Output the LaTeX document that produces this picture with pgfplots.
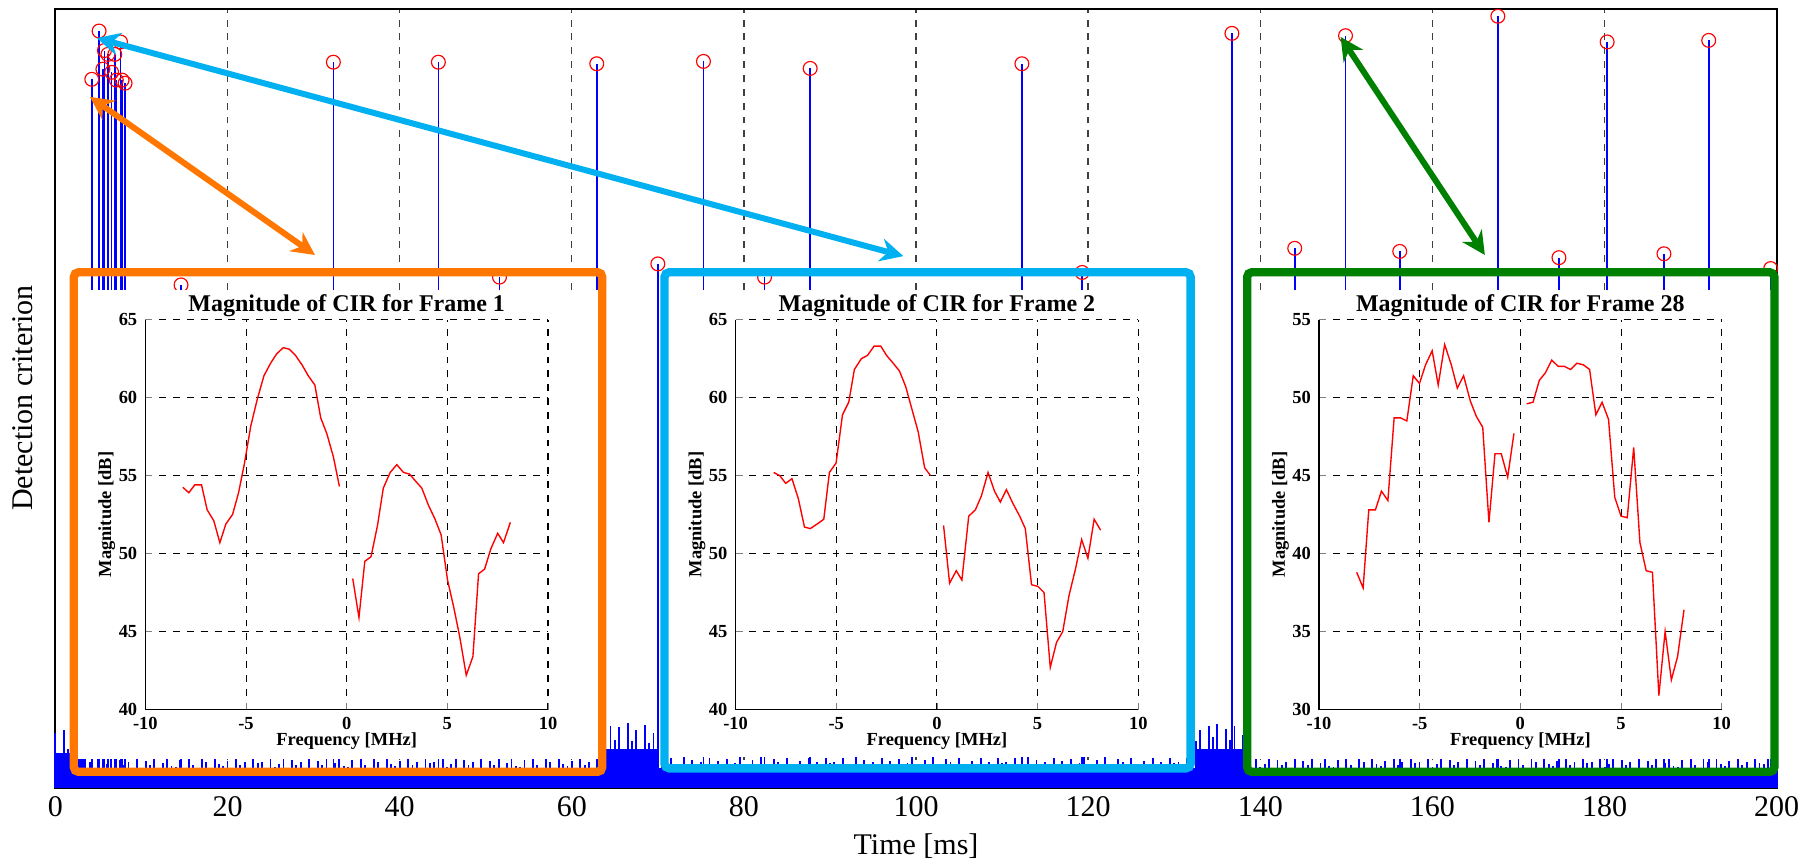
\documentclass[border=0pt]{standalone}
\usepackage{pgfplots}
\pgfplotsset{compat=1.18}
\usepackage{fontspec}
\setmainfont{Liberation Serif}
\usetikzlibrary{arrows.meta}
\definecolor{frorange}{RGB}{255,119,0}
\definecolor{frblue}{RGB}{0,176,240}
\definecolor{frgreen}{RGB}{0,128,0}
\newcommand{\mainfont}{\fontsize{13}{15}\selectfont}
\newcommand{\insfont}{\bfseries\fontsize{8}{9.5}\selectfont}

\pgfplotsset{
  cir/.style={
    anchor=south west, scale only axis, width=174.5pt, height=169pt,
    xmin=-10, xmax=10,
    xtick={-10,-5,0,5,10}, xticklabels={-10,-5,0,5,10},
    axis x line*=bottom, axis y line*=left,
    tick align=inside, major tick length=3pt,
    grid=major, grid style={dashed, black, line width=0.45pt},
    axis line style={black, line width=0.6pt},
    ticklabel style={font=\insfont},
    xlabel={Frequency [MHz]}, ylabel={Magnitude [dB]},
    label style={font=\insfont},
    xlabel style={at={(axis description cs:0.5,0)}, anchor=center, yshift=-13.5pt},
    ylabel style={at={(axis description cs:0,0.5)}, anchor=center, yshift=16.75pt},
    title style={font=\bfseries\fontsize{10.4}{12}\selectfont,
      at={(axis description cs:0.5,1)}, anchor=center, yshift=0pt},
  },
  cirline/.style={red, line width=0.6pt},
}

\begin{document}
\begin{tikzpicture}
% main detection plot
\begin{axis}[
  at={(24pt,-341.5pt)}, anchor=south west, scale only axis,
  width=746pt, height=337.5pt,
  xmin=0, xmax=200, ymin=0, ymax=1,
  xtick={0,20,...,200}, xticklabels={0,20,40,60,80,100,120,140,160,180,200},
  ytick=\empty, xtick pos=left, tick align=inside, major tick length=4pt,
  xmajorgrids, grid style={dashed, black!75, line width=0.6pt},
  axis line style={line width=0.8pt},
  ticklabel style={font=\mainfont},
  clip=false,
]
% dense noise floor (solid part)
\addplot[draw=none, fill=blue] coordinates {(0,0.026)(200,0.026)} \closedcycle;
\addplot[draw=none, fill=blue] coordinates {(0,0.045)(3.5,0.045)} \closedcycle;
\addplot[draw=none, fill=blue] coordinates {(63,0.050)(70,0.050)} \closedcycle;
\addplot[draw=none, fill=blue] coordinates {(132.5,0.050)(138,0.050)} \closedcycle;
% noise spikes
\addplot[ycomb, blue, line width=0.8pt, mark=none] coordinates {
(0,.070)(0.5,.045)(1,.075)(1.5,.050)(2,.068)(2.5,.032)(3,.072)(3.5,.045)
(4,.034)(4.5,.022)(5,.038)(5.5,.027)(6,.031)(6.5,.040)(7,.024)(7.5,.036)(8,.029)(8.5,.033)(9,.021)(9.5,.039)(10,.026)(10.5,.035)(11,.030)(11.5,.037)(12,.023)(12.5,.032)(13,.041)(13.5,.028)
(14,.027)(14.5,.036)(15,.024)(15.5,.040)(16,.030)(16.5,.022)(17,.037)(17.5,.033)(18,.025)(18.5,.039)(19,.031)(19.5,.028)(20,.035)(20.5,.021)(21,.038)(21.5,.029)(22,.034)(22.5,.026)(23,.039)(23.5,.032)
(24,.034)(24.5,.022)(25,.038)(25.5,.027)(26,.031)(26.5,.040)(27,.024)(27.5,.036)(28,.029)(28.5,.033)(29,.021)(29.5,.039)(30,.026)(30.5,.035)(31,.030)(31.5,.037)(32,.023)(32.5,.032)(33,.041)(33.5,.028)
(34,.027)(34.5,.036)(35,.024)(35.5,.040)(36,.030)(36.5,.022)(37,.037)(37.5,.033)(38,.025)(38.5,.039)(39,.031)(39.5,.028)(40,.035)(40.5,.021)(41,.038)(41.5,.029)(42,.034)(42.5,.026)(43,.039)(43.5,.032)
(44,.034)(44.5,.022)(45,.038)(45.5,.027)(46,.031)(46.5,.040)(47,.024)(47.5,.036)(48,.029)(48.5,.033)(49,.021)(49.5,.039)(50,.026)(50.5,.035)(51,.030)(51.5,.037)(52,.023)(52.5,.032)(53,.041)(53.5,.028)
(54,.027)(54.5,.036)(55,.024)(55.5,.040)(56,.030)(56.5,.022)(57,.037)(57.5,.033)(58,.025)(58.5,.039)(59,.031)(59.5,.028)(60,.035)(60.5,.021)(61,.038)(61.5,.029)(62,.034)(62.5,.026)
(63,.055)(63.5,.072)(64,.040)(64.5,.080)(65,.062)(65.5,.078)(66,.045)(66.5,.083)(67,.060)(67.5,.075)(68,.050)(68.5,.081)(69,.058)(69.5,.070)(70,.048)
(70.5,.034)(71,.022)(71.5,.038)(72,.027)(72.5,.031)(73,.040)(73.5,.024)(74,.036)(74.5,.029)(75,.033)(75.5,.021)(76,.039)(76.5,.026)(77,.035)(77.5,.030)(78,.037)(78.5,.023)(79,.032)(79.5,.041)(80,.028)
(80.5,.027)(81,.036)(81.5,.024)(82,.040)(82.5,.030)(83,.022)(83.5,.037)(84,.033)(84.5,.025)(85,.039)(85.5,.031)(86,.028)(86.5,.035)(87,.021)(87.5,.038)(88,.029)(88.5,.034)(89,.026)(89.5,.039)(90,.032)
(90.5,.034)(91,.022)(91.5,.038)(92,.027)(92.5,.031)(93,.040)(93.5,.024)(94,.036)(94.5,.029)(95,.033)(95.5,.021)(96,.039)(96.5,.026)(97,.035)(97.5,.030)(98,.037)(98.5,.023)(99,.032)(99.5,.041)(100,.028)
(100.5,.027)(101,.036)(101.5,.024)(102,.040)(102.5,.030)(103,.022)(103.5,.037)(104,.033)(104.5,.025)(105,.039)(105.5,.031)(106,.028)(106.5,.035)(107,.021)(107.5,.038)(108,.029)(108.5,.034)(109,.026)(109.5,.039)(110,.032)
(110.5,.034)(111,.022)(111.5,.038)(112,.027)(112.5,.031)(113,.040)(113.5,.024)(114,.036)(114.5,.029)(115,.033)(115.5,.021)(116,.039)(116.5,.026)(117,.035)(117.5,.030)(118,.037)(118.5,.023)(119,.032)(119.5,.041)(120,.028)
(120.5,.027)(121,.036)(121.5,.024)(122,.040)(122.5,.030)(123,.022)(123.5,.037)(124,.033)(124.5,.025)(125,.039)(125.5,.031)(126,.028)(126.5,.035)(127,.021)(127.5,.038)(128,.029)(128.5,.034)(129,.026)(129.5,.039)(130,.032)
(130.5,.034)(131,.022)(131.5,.038)(132,.027)
(132.5,.060)(133,.074)(133.5,.048)(134,.079)(134.5,.065)(135,.082)(135.5,.050)(136,.076)(136.5,.062)(137,.080)(137.5,.045)(138,.068)
(138.5,.034)(139,.022)(139.5,.038)(140,.027)(140.5,.031)(141,.040)(141.5,.024)(142,.036)(142.5,.029)(143,.033)(143.5,.021)(144,.039)(144.5,.026)(145,.035)(145.5,.030)(146,.037)(146.5,.023)(147,.032)(147.5,.041)(148,.028)
(148.5,.027)(149,.036)(149.5,.024)(150,.040)(150.5,.030)(151,.022)(151.5,.037)(152,.033)(152.5,.025)(153,.039)(153.5,.031)(154,.028)(154.5,.035)(155,.021)(155.5,.038)(156,.029)(156.5,.034)(157,.026)(157.5,.039)(158,.032)
(158.5,.034)(159,.022)(159.5,.038)(160,.027)(160.5,.031)(161,.040)(161.5,.024)(162,.036)(162.5,.029)(163,.033)(163.5,.021)(164,.039)(164.5,.026)(165,.035)(165.5,.030)(166,.037)(166.5,.023)(167,.032)(167.5,.041)(168,.028)
(168.5,.027)(169,.036)(169.5,.024)(170,.040)(170.5,.030)(171,.022)(171.5,.037)(172,.033)(172.5,.025)(173,.039)(173.5,.031)(174,.028)(174.5,.035)(175,.021)(175.5,.038)(176,.029)(176.5,.034)(177,.026)(177.5,.039)(178,.032)
(178.5,.034)(179,.022)(179.5,.038)(180,.027)(180.5,.031)(181,.040)(181.5,.024)(182,.036)(182.5,.029)(183,.033)(183.5,.021)(184,.039)(184.5,.026)(185,.035)(185.5,.030)(186,.037)(186.5,.023)(187,.032)(187.5,.041)(188,.028)
(188.5,.027)(189,.036)(189.5,.024)(190,.040)(190.5,.030)(191,.022)(191.5,.037)(192,.033)(192.5,.025)(193,.039)(193.5,.031)(194,.028)(194.5,.035)(195,.021)(195.5,.038)(196,.029)(196.5,.034)(197,.026)(197.5,.039)(198,.032)
(198.5,.031)(199,.040)(199.5,.024)(200,.036)
};
% detections
\addplot[ycomb, blue, line width=0.7pt, mark=o, mark size=3pt,
  mark options={red, line width=0.5pt, solid}] coordinates {
(4.23,0.910)(5.08,0.972)(5.52,0.923)(5.70,0.947)(6.10,0.942)(6.54,0.919)
(6.90,0.942)(7.08,0.909)(7.57,0.958)(7.75,0.909)(8.10,0.905)
(32.3,0.932)(44.5,0.932)(62.9,0.930)(75.3,0.933)(87.7,0.924)(112.3,0.930)
(136.7,0.969)(149.9,0.966)(167.6,0.991)(180.3,0.958)(192.1,0.960)
(14.6,0.646)(51.6,0.656)(70.0,0.673)(82.4,0.656)(119.3,0.662)
(144.0,0.693)(156.2,0.689)(174.7,0.681)(186.9,0.686)(199.3,0.667)
};
\end{axis}

\begin{scope}[x=0.5pt, y=-0.5pt]
  \fill[white] (64,251) rectangle (522,658);
  \draw[frorange, line width=3.6pt, rounded corners=2pt] (64,236) rectangle (522,669);
  \fill[white] (576,251) rectangle (1032,656);
  \draw[frblue, line width=3.6pt, rounded corners=2pt] (576,236) rectangle (1032,666);
  \fill[white] (1081,251) rectangle (1538,658);
  \draw[frgreen, line width=3.6pt, rounded corners=2pt] (1081,236) rectangle (1538,669);
\end{scope}

% frame 1
\begin{axis}[cir, at={(63pt,-307.5pt)}, ymin=40, ymax=65,
  ytick={40,45,...,65}, yticklabels={40,45,50,55,60,65},
  title={Magnitude of CIR for Frame 1}]
\addplot[cirline] coordinates {
(-8.14,54.25)(-7.84,53.9)(-7.55,54.4)(-7.21,54.4)(-6.93,52.8)(-6.60,52.1)(-6.30,50.7)
(-6.00,51.9)(-5.67,52.5)(-5.37,53.9)(-5.09,55.7)(-4.76,58.2)(-4.44,59.9)(-4.11,61.4)
(-3.78,62.2)(-3.48,62.8)(-3.15,63.2)(-2.85,63.1)(-2.54,62.7)(-2.22,62.1)(-1.91,61.4)
(-1.58,60.8)(-1.29,58.7)(-0.99,57.7)(-0.66,56.2)(-0.36,54.3)};
\addplot[cirline] coordinates {
(0.30,48.4)(0.61,45.9)(0.90,49.5)(1.21,49.8)(1.53,51.8)(1.82,54.2)(2.16,55.2)
(2.49,55.7)(2.82,55.2)(3.12,55.1)(3.45,54.6)(3.73,54.2)(4.06,53.1)(4.39,52.2)
(4.69,51.2)(5.01,48.3)(5.31,46.6)(5.61,44.7)(5.94,42.2)(6.27,43.4)(6.55,48.7)
(6.85,49.0)(7.16,50.3)(7.50,51.3)(7.79,50.7)(8.13,52.0)};
\end{axis}

% frame 2
\begin{axis}[cir, at={(318.8pt,-307.5pt)}, ymin=40, ymax=65,
  ytick={40,45,...,65}, yticklabels={40,45,50,55,60,65},
  title={Magnitude of CIR for Frame 2}]
\addplot[cirline] coordinates {
(-8.11,55.2)(-7.81,55.0)(-7.51,54.5)(-7.20,54.8)(-6.88,53.5)(-6.58,51.7)(-6.29,51.6)
(-5.94,51.9)(-5.62,52.2)(-5.34,55.2)(-5.01,55.8)(-4.69,58.9)(-4.38,59.7)(-4.10,61.8)
(-3.75,62.5)(-3.45,62.7)(-3.12,63.3)(-2.79,63.3)(-2.50,62.7)(-2.17,62.2)(-1.86,61.7)
(-1.55,60.7)(-1.23,59.2)(-0.93,57.8)(-0.61,55.5)(-0.32,55.0)};
\addplot[cirline] coordinates {
(0.33,51.8)(0.63,48.1)(0.96,48.9)(1.24,48.3)(1.58,52.4)(1.91,52.8)(2.21,53.7)
(2.54,55.2)(2.86,54.0)(3.15,53.3)(3.45,54.1)(3.78,53.2)(4.11,52.4)(4.39,51.6)
(4.70,48.0)(5.01,47.9)(5.32,47.5)(5.63,42.7)(5.94,44.3)(6.25,45.0)(6.56,47.3)
(6.88,49.0)(7.19,50.9)(7.50,49.7)(7.81,52.2)(8.13,51.5)};
\end{axis}

% frame 28
\begin{axis}[cir, at={(571.65pt,-307.5pt)}, ymin=30, ymax=55,
  ytick={30,35,...,55}, yticklabels={30,35,40,45,50,55},
  title={Magnitude of CIR for Frame 28}]
\addplot[cirline] coordinates {
(-8.13,38.8)(-7.81,37.8)(-7.53,42.8)(-7.20,42.8)(-6.90,44.0)(-6.58,43.4)(-6.27,48.7)
(-5.95,48.7)(-5.64,48.5)(-5.32,51.4)(-5.01,50.9)(-4.71,52.1)(-4.38,53.0)(-4.08,50.8)
(-3.76,53.4)(-3.43,52.1)(-3.13,50.6)(-2.82,51.4)(-2.49,49.8)(-2.19,48.8)(-1.87,48.1)
(-1.56,42.0)(-1.26,46.4)(-0.95,46.4)(-0.63,44.9)(-0.32,47.7)};
\addplot[cirline] coordinates {
(0.31,49.6)(0.63,49.7)(0.94,51.1)(1.25,51.6)(1.56,52.4)(1.88,52.0)(2.19,52.0)
(2.50,51.8)(2.81,52.2)(3.13,52.1)(3.44,51.8)(3.75,48.9)(4.06,49.7)(4.38,48.6)
(4.69,43.6)(5.00,42.4)(5.31,42.3)(5.63,46.8)(5.94,40.7)(6.25,38.9)(6.56,38.8)
(6.88,30.9)(7.19,35.0)(7.50,31.9)(7.81,33.4)(8.13,36.4)};
\end{axis}

\begin{scope}[x=0.5pt, y=-0.5pt]
  \draw[frorange, line width=2.6pt,
    {Stealth[length=10pt,width=10pt]}-{Stealth[length=10pt,width=10pt]}] (78,84) -- (273,221);
  \draw[frblue, line width=2.6pt,
    {Stealth[length=10pt,width=10pt]}-{Stealth[length=10pt,width=10pt]}] (84,33) -- (783,222);
  \draw[frgreen, line width=2.6pt,
    {Stealth[length=10pt,width=10pt]}-{Stealth[length=10pt,width=10pt]}] (1162,32) -- (1287,221);
  \node[font=\mainfont, rotate=90] at (20,345) {Detection criterion};
  \node[font=\mainfont] at (794,733) {Time [ms]};
  \pgfresetboundingbox
  \path[use as bounding box] (0,0) rectangle (1568,744);
\end{scope}
\end{tikzpicture}
\end{document}
